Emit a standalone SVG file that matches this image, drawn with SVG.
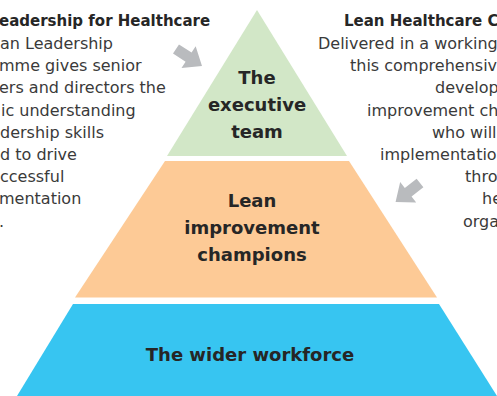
<svg xmlns="http://www.w3.org/2000/svg" width="497" height="396" viewBox="0 0 497 396">
<style>
.lbl{font-family:"DejaVu Sans",sans-serif;font-weight:bold;font-size:18px;fill:#262626;text-anchor:middle}
.ttl{font-family:"DejaVu Sans",sans-serif;font-weight:bold;font-size:15px;fill:#262626}
.body{font-family:"DejaVu Sans",sans-serif;font-size:16px;fill:#3a3a3a}
.arr{fill:#b9bbbe}
</style>
<defs>
<path id="arrow" d="M0,-5.5 L15,-5.5 L15,-13 L31,0 L15,13 L15,5.5 L0,5.5 Z"/>
</defs>
<rect width="497" height="396" fill="#ffffff"/>
<g id="executive-team">
<polygon points="257,10 347,156 167,156" fill="#d2e7c7"/>
<text class="lbl" x="257" y="84">The</text>
<text class="lbl" x="257" y="111">executive</text>
<text class="lbl" x="257" y="138">team</text>
</g>
<g id="lean-champions">
<polygon points="165,161 349,161 437,297.5 75,297.5" fill="#fdca96"/>
<text class="lbl" x="252" y="207">Lean</text>
<text class="lbl" x="252" y="234">improvement</text>
<text class="lbl" x="252" y="261">champions</text>
</g>
<g id="wider-workforce">
<polygon points="73,304 439,304 497,396 17,396" fill="#37c5f1"/>
<text class="lbl" x="250" y="361">The wider workforce</text>
</g>
<g id="left-note">
<text class="ttl" x="-1" y="26">eadership for Healthcare</text>
<text class="body" x="0" y="49">an Leadership</text>
<text class="body" x="-1" y="71.2">mme gives senior</text>
<text class="body" x="-1" y="93.4">ers and directors the</text>
<text class="body" x="1" y="115.6">ic understanding</text>
<text class="body" x="0" y="137.8">dership skills</text>
<text class="body" x="0" y="160">d to drive</text>
<text class="body" x="0" y="182.2">ccessful</text>
<text class="body" x="-1" y="204.4">mentation</text>
<text class="body" x="-1" y="226.6">.</text>
</g>
<g id="right-note">
<text class="ttl" x="344" y="26">Lean Healthcare C</text>
<text class="body" x="318" y="49">Delivered in a working</text>
<text class="body" x="350" y="71.2">this comprehensiv</text>
<text class="body" x="435" y="93.4">develop</text>
<text class="body" x="367" y="115.6">improvement ch</text>
<text class="body" x="432" y="137.8">who will</text>
<text class="body" x="380" y="160">implementatio</text>
<text class="body" x="465" y="182.2">thro</text>
<text class="body" x="482" y="204.4">he</text>
<text class="body" x="463" y="226.6">orga</text>
</g>
<g id="connectors">
<use href="#arrow" class="arr" transform="translate(176,49) rotate(33)"/>
<use href="#arrow" class="arr" transform="translate(420,183) rotate(142)"/>
</g>
</svg>
